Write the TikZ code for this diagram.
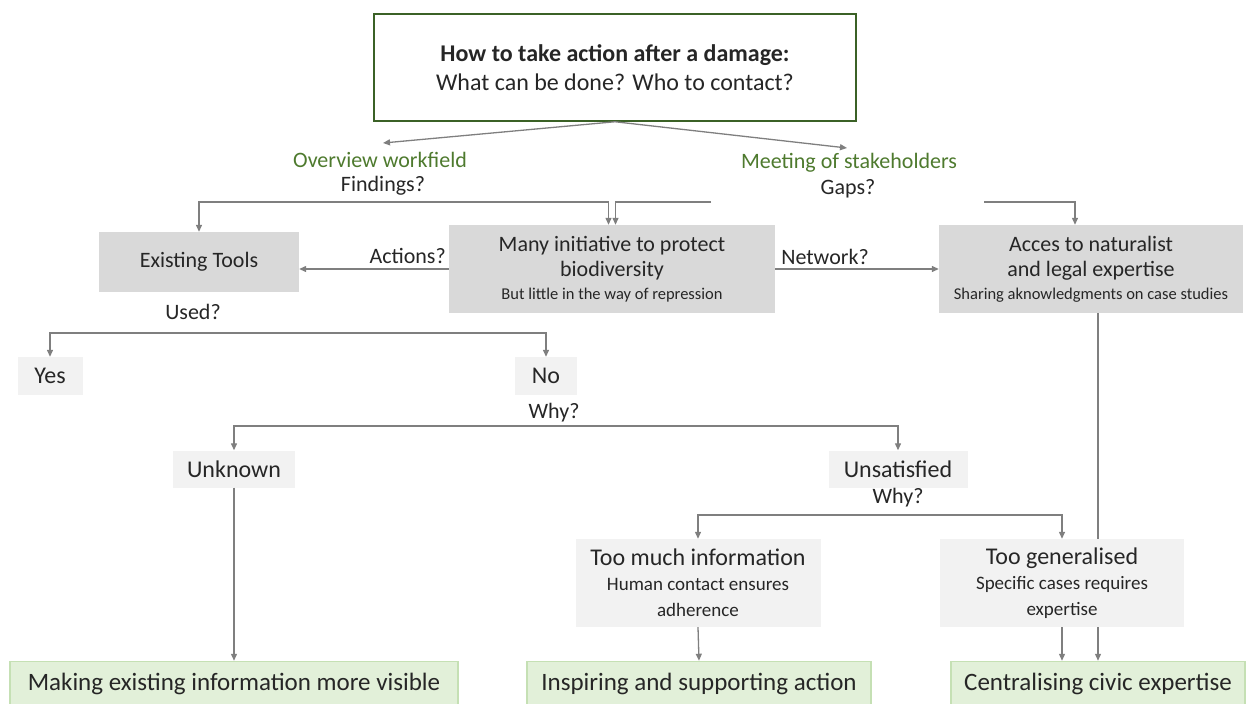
\documentclass[tikz,border=0pt]{standalone}
\usepackage{fontspec}
\setmainfont{Carlito}
\usetikzlibrary{arrows.meta, backgrounds}
\definecolor{topgreen}{HTML}{3B6126}
\definecolor{methodgreen}{HTML}{4E7A2E}
\definecolor{findfill}{HTML}{D9D9D9}
\definecolor{answerfill}{HTML}{F2F2F2}
\definecolor{resultfill}{HTML}{E2F0D9}
\definecolor{resultborder}{HTML}{C5E0B4}
\definecolor{flowgray}{HTML}{7F7F7F}
\definecolor{darktext}{HTML}{262626}
\newcommand{\notesize}{\fontsize{16.5}{20}\selectfont}
\newcommand{\reasonsize}{\fontsize{19}{23}\selectfont}
\tikzset{
  mainbox/.style={rectangle, draw=topgreen, line width=1.5pt, fill=white, align=center, inner sep=0pt, minimum width=482pt, minimum height=107pt, font=\fontsize{24}{29}\selectfont},
  findbox/.style={rectangle, fill=findfill, align=center, inner sep=0pt, font=\fontsize{22}{25}\selectfont},
  answer/.style={rectangle, fill=answerfill, align=center, inner sep=0pt, font=\fontsize{24}{26}\selectfont},
  result/.style={rectangle, fill=resultfill, draw=resultborder, line width=1.5pt, inner sep=0pt, minimum height=45pt, font=\fontsize{25}{28}\selectfont},
  flow/.style={-{Triangle[length=7pt, width=6pt]}, line width=1.3pt, draw=flowgray},
  question/.style={font=\fontsize{22}{24}\selectfont, inner sep=0pt, text=darktext},
  method/.style={font=\fontsize{22}{24}\selectfont, inner sep=0pt, text=methodgreen}
}

\begin{document}
\begin{tikzpicture}[x=1pt, y=-1pt, text=darktext]
\useasboundingbox (0,0) rectangle (1256,704);

% question at the top
\node[mainbox] (damage) at (615,67.5) {\textbf{How to take action after a damage:}\\What can be done? Who to contact?};

\node[method] (overview) at (380,160) {Overview workfield};
\node[question] (findings) at (383,186) {Findings?};
\node[method] (meeting) at (849,163) {Meeting of stakeholders};
\node[question] (gaps) at (848,189) {Gaps?};

\coordinate (overtip) at (383,143);
\coordinate (meettip) at (847,148);

% findings
\node[findbox, minimum width=200pt, minimum height=60pt] (tools) at (199,262) {Existing Tools};
\node[findbox, minimum width=326pt, minimum height=88pt] (many) at (612,269) {Many initiative to protect\\biodiversity\\[-2pt]\notesize But little in the way of repression};
\node[findbox, minimum width=304pt, minimum height=88pt] (acces) at (1091,269) {Acces to naturalist\\and legal expertise\\[-2pt]\notesize Sharing aknowledgments on case studies};

\node[question, anchor=east] (actions) at (446,256) {Actions?};
\node[question] (network) at (825,257) {Network?};
\node[question] (used) at (193,312) {Used?};

% answers
\node[answer, minimum width=65pt, minimum height=38pt] (yes) at (50,376) {Yes};
\node[answer, minimum width=62pt, minimum height=38pt] (no) at (546,376) {No};
\node[question] (whyno) at (554,413) {Why?};
\node[answer, minimum width=122pt, minimum height=37pt] (unknown) at (234,469) {Unknown};
\node[answer, minimum width=139pt, minimum height=37pt] (unsat) at (898,469) {Unsatisfied};
\node[question] (whyunsat) at (898,498) {Why?};
\node[answer, minimum width=245pt, minimum height=88pt] (much) at (698,583) {Too much information\\[-1pt]\reasonsize Human contact ensures\\\reasonsize adherence};
\node[answer, minimum width=244pt, minimum height=88pt] (general) at (1062,583) {Too generalised\\[-1pt]\reasonsize Specific cases requires\\\reasonsize expertise};

% results
\node[result, minimum width=448pt] (visible) at (234,684) {Making existing information more visible};
\node[result, minimum width=344pt] (inspire) at (699,684) {Inspiring and supporting action};
\node[result, minimum width=294pt] (civic) at (1098,684) {Centralising civic expertise};

\coordinate (findfork) at (400,202);
\coordinate (meetleft) at (711,202);
\coordinate (meetright) at (984,202);
\coordinate (usedfork) at (300,333);
\coordinate (whyfork) at (546,426);
\coordinate (unsatfork) at (880,515);

\draw[flow] (damage.south) -- (overtip);
\draw[flow] (damage.south) -- (meettip);
\draw[flow] (findfork) -| (tools.north);
\draw[flow] (findfork) -| ([xshift=-3.5pt]many.north);
\draw[flow] (meetleft) -| ([xshift=3.5pt]many.north);
\draw[flow] (meetright) -| ([xshift=-16pt]acces.north);
\draw[flow] (many.west) -- (many.west -| tools.east);
\draw[flow] (many.east) -- (acces.west);
\draw[flow] (usedfork) -| (yes.north);
\draw[flow] (usedfork) -| (no.north);
\draw[flow] (whyfork) -| (unknown.north);
\draw[flow] (whyfork) -| (unsat.north);
\draw[flow] (unsatfork) -| (much.north);
\draw[flow] (unsatfork) -| (general.north);
\draw[flow] (unknown.south) -- (visible.north);
\draw[flow] (much.south) -- (inspire.north);
\draw[flow] (general.south) -- (general.south |- civic.north);
\begin{pgfonlayer}{background}
  \draw[flow] (acces.south -| civic.north) -- (civic.north);
\end{pgfonlayer}

\end{tikzpicture}
\end{document}
